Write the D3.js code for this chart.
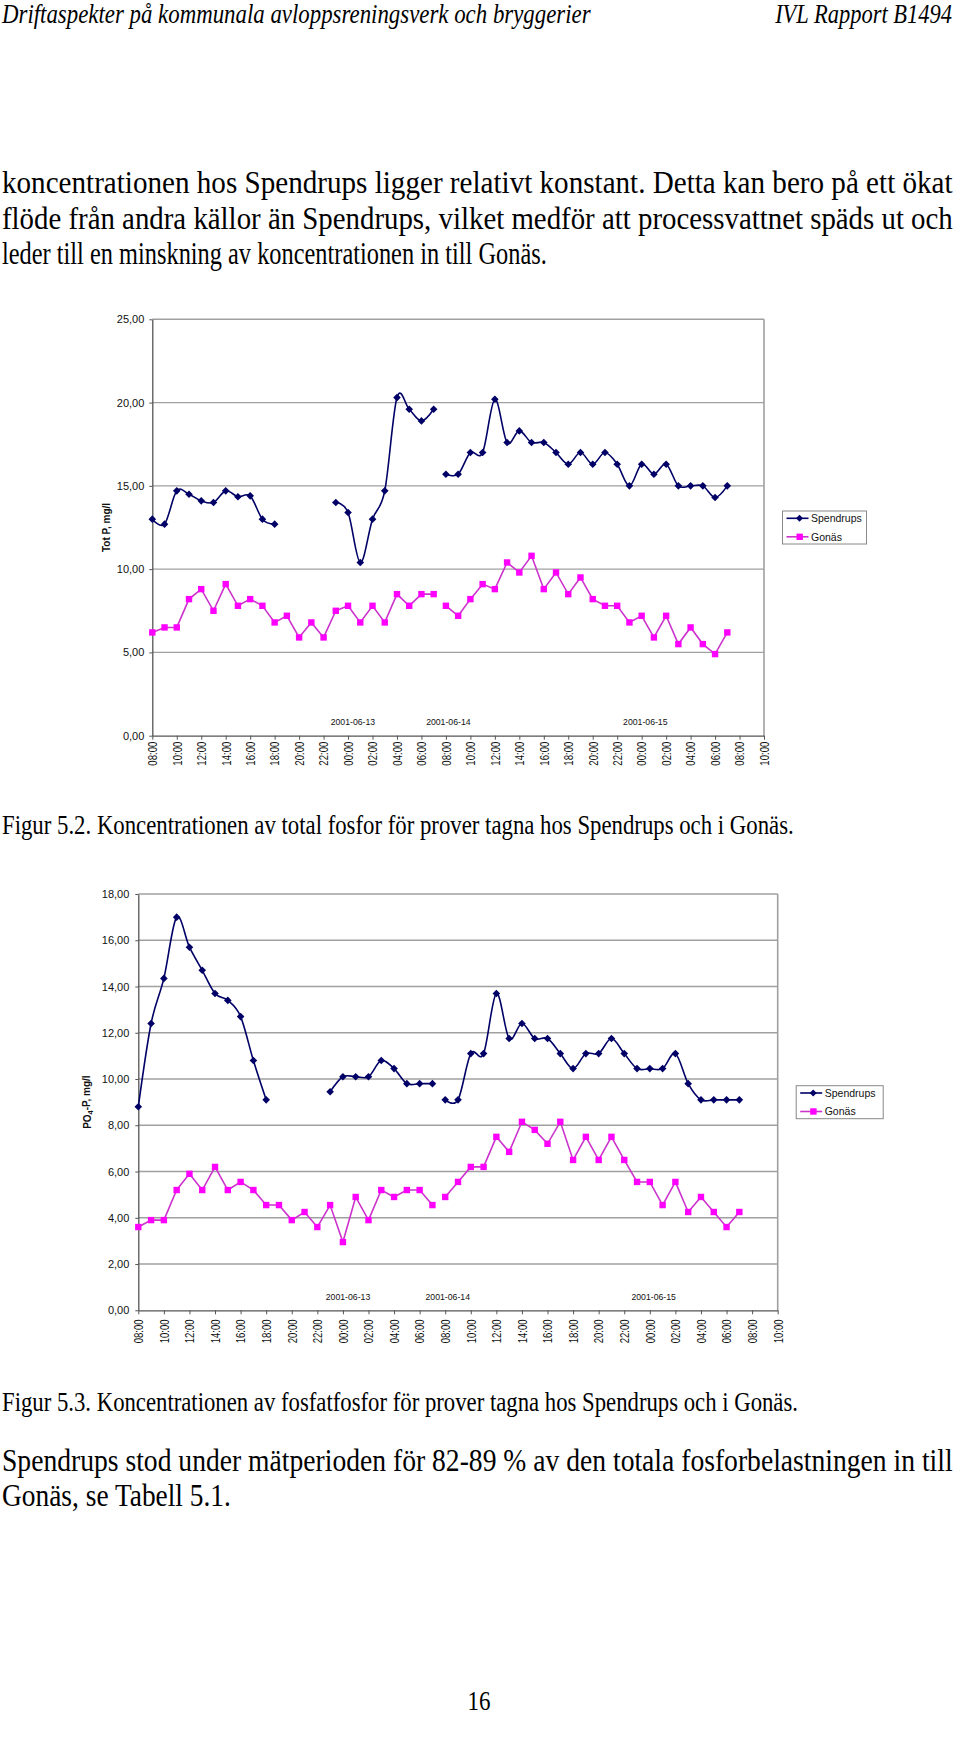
<!DOCTYPE html>
<html><head><meta charset="utf-8">
<script src="https://cdn.jsdelivr.net/npm/d3@7"></script>
<style>body{margin:0;background:#fff}svg{display:block}</style>
</head><body>
<svg id="page" width="960" height="1745"></svg>
<script>
// ---------- DATA ----------
const timeLabels = ["08:00","10:00","12:00","14:00","16:00","18:00","20:00","22:00",
  "00:00","02:00","04:00","06:00","08:00","10:00","12:00","14:00","16:00","18:00","20:00","22:00",
  "00:00","02:00","04:00","06:00","08:00","10:00"];
// sample time, hours after the first 08:00 (23.5 = empty row that breaks the lines)
const sampleHours = [0,1,2,3,4,5,6,7,8,9,10,11,12,13,14,15,16,17,18,19,20,21,22,23,23.5,
  24,25,26,27,28,29,30,31,32,33,34,35,36,37,38,39,40,41,42,43,44,45,46,47];
const seriesNames = ["Spendrups","Gonäs"];
const dateLabels = ["2001-06-13","2001-06-14","2001-06-15"];
const dateLabelHours = [16.4, 24.2, 40.3];

const totP_spendrups = [13.0,12.7,14.7,14.5,14.1,14.0,14.7,14.35,14.4,13.0,12.7,null,null,null,null,
  14.0,13.4,10.4,13.0,14.7,20.3,19.6,18.9,19.6, null,
  15.7,15.7,17.0,17.0,20.2,17.6,18.3,17.6,17.6,17.0,16.3,17.0,16.3,17.0,16.3,15.0,16.3,15.7,16.3,15.0,15.0,15.0,14.3,15.0];
const totP_gonas = [6.2,6.5,6.5,8.2,8.8,7.5,9.1,7.8,8.2,7.8,6.8,7.2,5.9,6.8,5.9,7.5,7.8,6.8,7.8,6.8,8.5,7.8,8.5,8.5, null,
  7.8,7.2,8.2,9.1,8.8,10.4,9.8,10.8,8.8,9.8,8.5,9.5,8.2,7.8,7.8,6.8,7.2,5.9,7.2,5.5,6.5,5.5,4.9,6.2];
const po4_spendrups = [8.8,12.4,14.35,17.0,15.7,14.7,13.7,13.4,12.7,10.8,9.1,null,null,null,null,
  9.45,10.1,10.1,10.1,10.8,10.45,9.8,9.8,9.8, null,
  9.1,9.1,11.1,11.1,13.7,11.75,12.4,11.75,11.75,11.1,10.45,11.1,11.1,11.75,11.1,10.45,10.45,10.45,11.1,9.8,9.1,9.1,9.1,9.1];
const po4_gonas = [3.6,3.9,3.9,5.2,5.9,5.2,6.2,5.2,5.55,5.2,4.55,4.55,3.9,4.25,3.6,4.55,2.95,4.9,3.9,5.2,4.9,5.2,5.2,4.55, null,
  4.9,5.55,6.2,6.2,7.5,6.85,8.15,7.8,7.2,8.15,6.5,7.5,6.5,7.5,6.5,5.55,5.55,4.55,5.55,4.25,4.9,4.25,3.6,4.25];

const totP_ticks = [0,5,10,15,20,25];
const po4_ticks = [0,2,4,6,8,10,12,14,16,18];

// ---------- PAGE ----------
const svg = d3.select("#page");
svg.append("rect").attr("width",960).attr("height",1745).attr("fill","#fff");
const SERIF = "'Liberation Serif','Times New Roman',serif";
const SANS = "'Liberation Sans',Arial,sans-serif";

// Text with a given glyph height (size) squeezed to a given width (len):
// font size is chosen so the natural width equals len, and a vertical scale restores the height.
function txt(t, x, y, size, len, opts = {}) {
  const anchor = opts.anchor || "start";
  const e = svg.append("text").attr("x", 0).attr("y", 0)
    .attr("font-family", SERIF).attr("font-size", size).attr("fill", "#000")
    .attr("text-anchor", anchor)
    .attr("font-style", opts.italic ? "italic" : "normal")
    .text(t);
  const w = e.node().getComputedTextLength();
  const sx = len / w;
  const fs = size * sx;
  e.attr("font-size", fs)
   .attr("transform", `translate(${x},${y}) scale(1,${1 / sx})`);
  const w2 = e.node().getComputedTextLength();
  if (Math.abs(w2 - len) > 0.5) e.attr("textLength", len).attr("lengthAdjust", "spacingAndGlyphs");
  return e;
}

txt("Driftaspekter på kommunala avloppsreningsverk och bryggerier", 2, 23, 27, 589, {italic:true});
txt("IVL Rapport B1494", 952, 23, 27, 177, {italic:true, anchor:"end"});

txt("koncentrationen hos Spendrups ligger relativt konstant. Detta kan bero på ett ökat", 2, 193, 31, 951);
txt("flöde från andra källor än Spendrups, vilket medför att processvattnet späds ut och", 2, 229, 31, 951);
txt("leder till en minskning av koncentrationen in till Gonäs.", 2, 264, 31, 545);

txt("Figur 5.2. Koncentrationen av total fosfor för prover tagna hos Spendrups och i Gonäs.", 2, 834, 27, 792);
txt("Figur 5.3. Koncentrationen av fosfatfosfor för prover tagna hos Spendrups och i Gonäs.", 2, 1411, 27, 796);

txt("Spendrups stod under mätperioden för 82-89 % av den totala fosforbelastningen in till", 2, 1471, 31, 951);
txt("Gonäs, se Tabell 5.1.", 2, 1506, 31, 229);
txt("16", 479, 1710, 28, 23, {anchor:"middle"});

// ---------- CHARTS ----------
const fmt = d => d3.format(".2f")(d).replace(".", ",");
const NAVY = "#000066", MAG = "#ff00ff", MAGLINE = "#cc33cc";

function drawChart(cfg) {
  const g = svg.append("g");
  const x = d3.scaleLinear().domain([0, 50]).range([cfg.left, cfg.right]);
  const y = d3.scaleLinear().domain([0, cfg.ymax]).range([cfg.bottom, cfg.top]);

  // gridlines
  g.selectAll("line.grid").data(cfg.ticks.filter(d => d > 0)).join("line")
    .attr("x1", cfg.left).attr("x2", cfg.right)
    .attr("y1", d => y(d)).attr("y2", d => y(d))
    .attr("stroke", "#a0a0a0").attr("stroke-width", 1.4);
  // right border
  g.append("line").attr("x1", cfg.right).attr("x2", cfg.right)
    .attr("y1", cfg.top).attr("y2", cfg.bottom).attr("stroke", "#a0a0a0").attr("stroke-width", 1.6);

  // y axis
  const ya = g.append("g").attr("transform", `translate(${cfg.left},0)`)
    .call(d3.axisLeft(y).tickValues(cfg.ticks).tickSize(3).tickSizeOuter(0).tickPadding(cfg.ypad).tickFormat(fmt));
  ya.select(".domain").attr("stroke", "#555").attr("stroke-width", 1.3);
  ya.selectAll(".tick line").attr("stroke", "#555");
  ya.selectAll(".tick text").attr("font-family", SANS).attr("font-size", 11).attr("fill", "#111");

  // x axis
  const xa = g.append("g").attr("transform", `translate(0,${cfg.bottom})`)
    .call(d3.axisBottom(x).tickValues(d3.range(0, 51, 2)).tickSize(4).tickSizeOuter(0)
      .tickFormat((d, i) => timeLabels[i]));
  xa.select(".domain").attr("stroke", "#555").attr("stroke-width", 1.3);
  xa.selectAll(".tick line").attr("stroke", "#555");
  xa.selectAll(".tick text")
    .attr("font-family", SANS).attr("font-size", 12).attr("fill", "#111")
    .attr("text-anchor", "end").attr("x", 0).attr("y", 0).attr("dy", "0.36em")
    .attr("transform", `translate(0,${cfg.xlabOff}) rotate(-90)`)
    .attr("textLength", 24).attr("lengthAdjust", "spacingAndGlyphs");

  // date labels
  g.selectAll("text.date").data(dateLabels).join("text")
    .attr("x", (d, i) => x(dateLabelHours[i])).attr("y", cfg.bottom - 10.5)
    .attr("text-anchor", "middle").attr("font-family", SANS).attr("font-size", 8.7)
    .attr("fill", "#111").text(d => d);

  // lines
  const pts = vals => sampleHours.map((h, i) => ({h, v: vals[i]}));
  const lineSmooth = d3.line().defined(d => d.v != null).x(d => x(d.h)).y(d => y(d.v))
    .curve(d3.curveCardinal.tension(0));
  const lineStraight = d3.line().defined(d => d.v != null).x(d => x(d.h)).y(d => y(d.v));

  g.append("path").attr("d", lineStraight(pts(cfg.gonas))).attr("fill", "none")
    .attr("stroke", MAGLINE).attr("stroke-width", 1.6);
  g.selectAll("rect.sq").data(pts(cfg.gonas).filter(d => d.v != null)).join("rect")
    .attr("x", d => x(d.h) - 3.2).attr("y", d => y(d.v) - 3.2)
    .attr("width", 6.4).attr("height", 6.4).attr("fill", MAG);

  g.append("path").attr("d", lineSmooth(pts(cfg.spendrups))).attr("fill", "none")
    .attr("stroke", NAVY).attr("stroke-width", 1.6);
  const diamond = r => `M0,${-r}L${r},0L0,${r}L${-r},0Z`;
  g.selectAll("path.dia").data(pts(cfg.spendrups).filter(d => d.v != null)).join("path")
    .attr("transform", d => `translate(${x(d.h)},${y(d.v)})`)
    .attr("d", diamond(3.8)).attr("fill", NAVY);

  // y title
  const yt = g.append("text")
    .attr("transform", `translate(${cfg.titleX},${(cfg.top + cfg.bottom) / 2}) rotate(-90)`)
    .attr("text-anchor", "middle").attr("dy", "0.35em")
    .attr("font-family", SANS).attr("font-size", 10).attr("font-weight", "bold").attr("fill", "#111");
  cfg.title(yt);

  // legend
  const lx = cfg.right + 18.5, ly = cfg.top + 191.7;
  const lg = g.append("g").attr("transform", `translate(${lx},${ly})`);
  lg.append("rect").attr("width", cfg.legW).attr("height", 33)
    .attr("fill", "#fff").attr("stroke", "#888").attr("stroke-width", 1);
  const rows = [7.3, 25.8];
  seriesNames.forEach((name, i) => {
    const ry = rows[i];
    lg.append("line").attr("x1", 4).attr("x2", 26).attr("y1", ry).attr("y2", ry)
      .attr("stroke", i === 0 ? NAVY : MAGLINE).attr("stroke-width", 1.6);
    if (i === 0) lg.append("path").attr("transform", `translate(17,${ry})`).attr("d", diamond(3.5)).attr("fill", NAVY);
    else lg.append("rect").attr("x", 14).attr("y", ry - 3.2).attr("width", 6.4).attr("height", 6.4).attr("fill", MAG);
    lg.append("text").attr("x", 28.5).attr("y", ry + 3.8)
      .attr("font-family", SANS).attr("font-size", 10.5).attr("fill", "#111").text(name);
  });
}

drawChart({
  left: 152.3, right: 764, top: 319.3, bottom: 735.7, ymax: 25, ticks: totP_ticks, ypad: 5,
  xlabOff: 6, titleX: 106.7, legW: 84,
  spendrups: totP_spendrups, gonas: totP_gonas,
  title: t => t.text("Tot P, mg/l")
});
drawChart({
  left: 138.3, right: 777.7, top: 894, bottom: 1310.3, ymax: 18, ticks: po4_ticks, ypad: 6,
  xlabOff: 9, titleX: 87.3, legW: 87,
  spendrups: po4_spendrups, gonas: po4_gonas,
  title: t => {
    t.append("tspan").text("PO");
    t.append("tspan").attr("font-size", 7.5).attr("dy", "0.3em").text("4");
    t.append("tspan").attr("dy", "-0.3em").text("-P, mg/l");
  }
});
</script>
</body></html>
